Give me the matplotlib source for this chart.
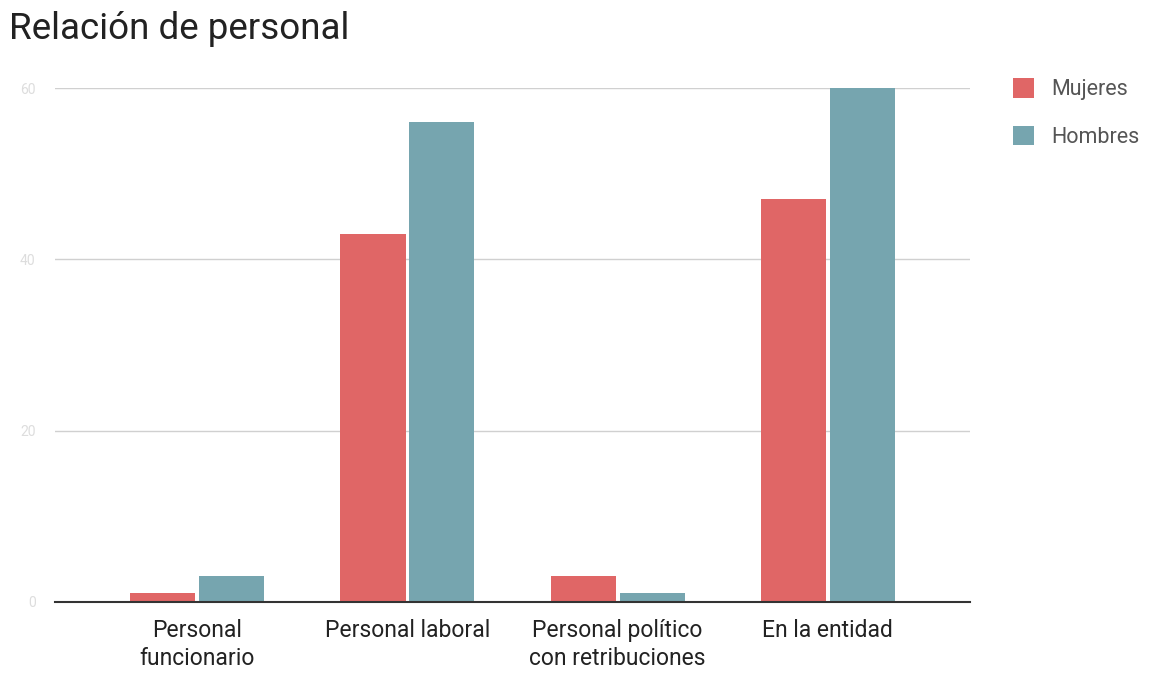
import numpy as np
import matplotlib
matplotlib.use("Agg")
import matplotlib.pyplot as plt

plt.rcParams['font.family'] = ['Roboto', 'DejaVu Sans']

categories = ["Personal\nfuncionario", "Personal laboral",
              "Personal político\ncon retribuciones", "En la entidad"]
mujeres = [1, 43, 3, 47]
hombres = [3, 56, 1, 60]
yticks = [0, 20, 40, 60]

fig = plt.figure(figsize=(11.51, 6.77), dpi=100)
ax = fig.add_axes([0.0478, 0.1108, 0.795, 0.7592])

x = np.arange(len(categories))
w = 0.31
off = 0.164
ax.bar(x - off, mujeres, w, color="#e06666", label="Mujeres", zorder=3)
ax.bar(x + off, hombres, w, color="#76a5af", label="Hombres", zorder=3)

ax.set_xlim(-0.676, 3.676)
ax.set_ylim(0, 60)
ax.set_yticks(yticks)
ax.set_yticklabels([str(v) for v in yticks], color="#dddddd", fontsize=10)
ax.set_xticks(x)
ax.set_xticklabels(categories, fontsize=16.5, color="#222222", linespacing=1.3)
ax.tick_params(axis="x", length=0, pad=12)
ax.tick_params(axis="y", length=0, pad=14)
ax.grid(axis="y", color="#d0d0d0", linewidth=1, zorder=0)
for s in ["top", "right", "left"]:
    ax.spines[s].set_visible(False)
ax.spines["bottom"].set_color("#333333")
ax.spines["bottom"].set_linewidth(1.5)
ax.spines["bottom"].set_zorder(4)

fig.text(0.008, 0.957, "Relación de personal", fontsize=26.5, color="#222222",
         ha="left", va="center")

leg = ax.legend(loc="upper left", bbox_to_anchor=(0.863, 0.913),
                bbox_transform=fig.transFigure, frameon=False, fontsize=15.5,
                handlelength=1.0, handleheight=1.0, handletextpad=0.8,
                labelspacing=1.2)
for t in leg.get_texts():
    t.set_color("#555555")

fig.savefig("out.png", dpi=100)
